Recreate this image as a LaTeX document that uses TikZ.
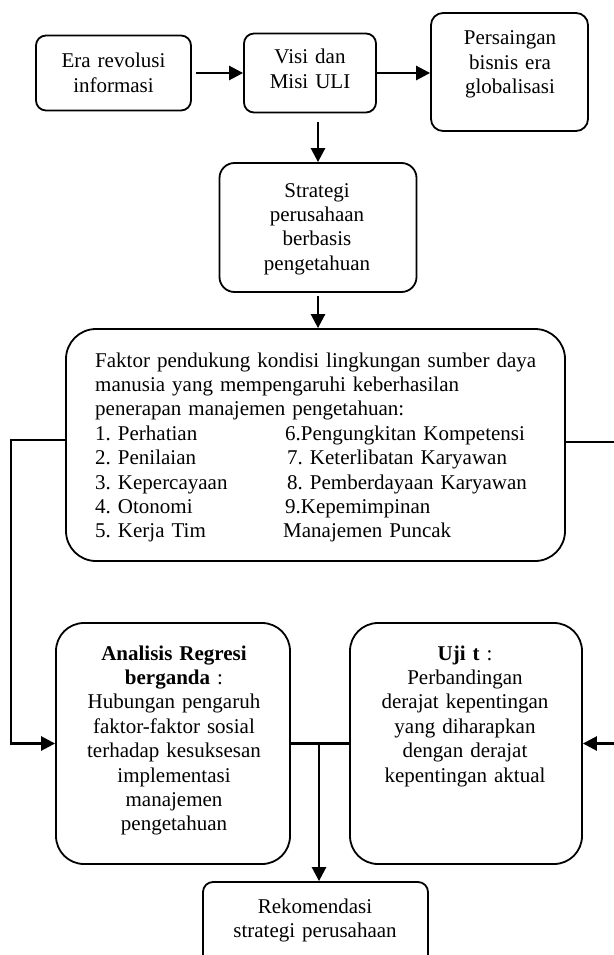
\documentclass[tikz,border=0pt]{standalone}
\usepackage{fontspec}
\setmainfont{Liberation Serif}
\usetikzlibrary{arrows.meta}
\frenchspacing
\begin{document}
\begin{tikzpicture}[x=1pt,y=-1pt,
  box/.style={draw, line width=1.8pt, inner sep=0pt},
  txt/.style={inner sep=0pt, font=\fontsize{21}{24.4}\selectfont\frenchspacing, align=center},
  conn/.style={line width=2.6pt},
  arr/.style={conn, -{Triangle[length=14pt,width=14pt]}}]
\useasboundingbox[fill=white] (0,0) rectangle (613,955);

% boxes
\node[box, rounded corners=10pt, minimum width=155pt, minimum height=75pt] (era) at (113.5,73) {};
\node[box, rounded corners=10pt, minimum width=132pt, minimum height=79pt] (visi) at (310,73) {};
\node[box, rounded corners=12pt, minimum width=157pt, minimum height=118pt] (pers) at (509.5,72) {};
\node[box, rounded corners=15pt, minimum width=197pt, minimum height=129pt] (strat) at (318,227.5) {};
\node[box, rounded corners=30pt, minimum width=499pt, minimum height=232pt] (faktor) at (315.5,445) {};
\node[box, rounded corners=28pt, minimum width=234pt, minimum height=241pt] (anal) at (173,743.5) {};
\node[box, rounded corners=28pt, minimum width=232pt, minimum height=241pt] (uji) at (466,743.5) {};
\node[box, rounded corners=10pt, minimum width=225pt, minimum height=110pt] (rek) at (315.5,937) {};

% texts
\node[txt, text width=150pt, anchor=base] (eraT) at (113.5,68) {Era revolusi\\informasi};
\node[txt, text width=130pt, anchor=base] (visiT) at (310,64) {Visi dan\\Misi ULI};
\node[txt, text width=150pt, anchor=base] (persT) at (510,45) {Persaingan\\bisnis era\\globalisasi};
\node[txt, text width=190pt, anchor=base] (stratT) at (317,197) {Strategi\\perusahaan\\berbasis\\pengetahuan};
\node[txt, text width=470pt, align=left, anchor=base west] (faktorT) at (95,367)
  {Faktor pendukung kondisi lingkungan sumber daya\\
   manusia yang mempengaruhi keberhasilan\\
   penerapan manajemen pengetahuan:\\
   \makebox[190pt][l]{1. Perhatian}6.Pengungkitan Kompetensi\\
   \makebox[190pt][l]{2. Penilaian}\hspace{2pt}7. Keterlibatan Karyawan\\
   \makebox[190pt][l]{3. Kepercayaan}\hspace{2pt}8. Pemberdayaan Karyawan\\
   \makebox[190pt][l]{4. Otonomi}9.Kepemimpinan\\
   \makebox[188pt][l]{5. Kerja Tim}Manajemen Puncak};
\node[txt, text width=228pt, anchor=base] (analT) at (174,660)
  {\textbf{Analisis Regresi}\\\textbf{berganda} :\\Hubungan pengaruh\\faktor-faktor sosial\\terhadap kesuksesan\\implementasi\\manajemen\\pengetahuan};
\node[txt, text width=228pt, anchor=base] (ujiT) at (465,660)
  {\textbf{Uji t} :\\Perbandingan\\derajat kepentingan\\yang diharapkan\\dengan derajat\\kepentingan aktual};
\node[txt, text width=220pt, anchor=base] (rekT) at (315,913) {Rekomendasi\\strategi perusahaan};

% connectors
\draw[arr] ([xshift=4pt]era.east) -- (visi.west);
\draw[arr] (visi.east) -- (pers.west |- visi.east);
\coordinate (v1) at (visi.south -| strat.north);
\draw[arr] ([yshift=-9pt]v1) -- (strat.north);
\draw[arr] ([yshift=-3pt]strat.south) -- (strat.south |- faktor.north);
\draw[arr] ([yshift=5pt]faktor.west) -- ++(-54,0) |- (anal.west);
\draw[arr] ([yshift=3pt]faktor.east) -- ++(52,0) |- (uji.east);
\draw[conn] (anal.east) -- (uji.west);
\coordinate (j) at (319,743.5);
\draw[arr] (j) -- (j |- rek.north);
\end{tikzpicture}
\end{document}
